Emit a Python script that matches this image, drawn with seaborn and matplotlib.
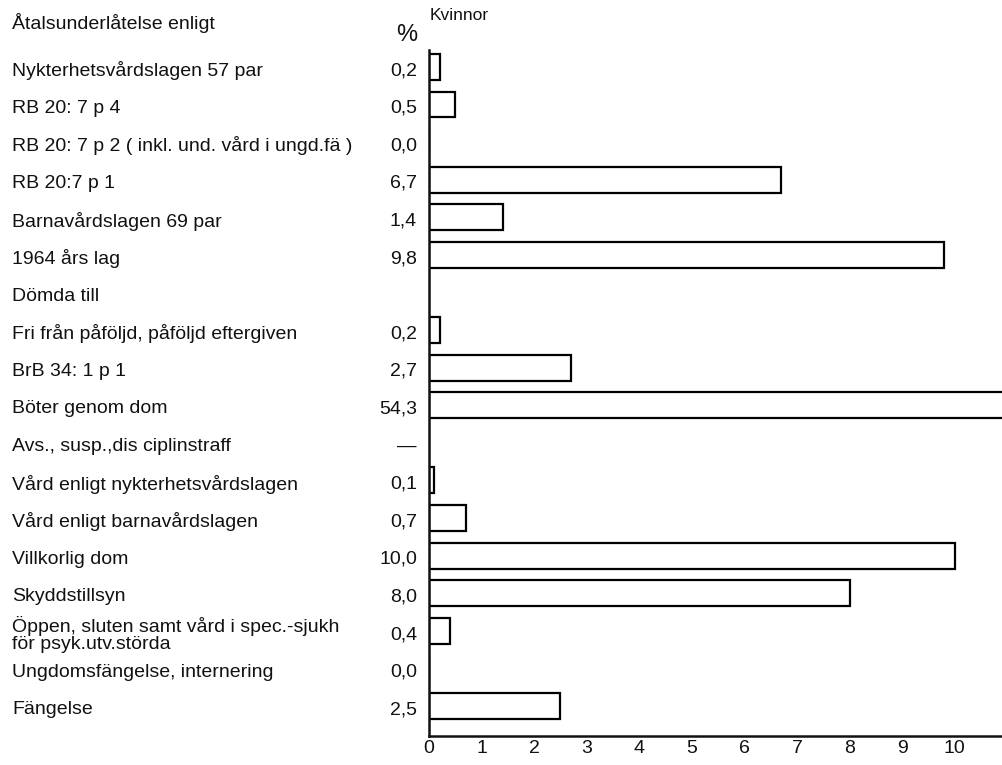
import numpy as np
import pandas as pd
import seaborn as sns
import matplotlib.pyplot as plt
from matplotlib import transforms

# Data (women, percent)
header_top = "Åtalsunderlåtelse enligt"
categories = [
    "Nykterhetsvårdslagen 57 par",
    "RB 20: 7 p 4",
    "RB 20: 7 p 2 ( inkl. und. vård i ungd.fä )",
    "RB 20:7 p 1",
    "Barnavårdslagen 69 par",
    "1964 års lag",
    "Dömda till",
    "Fri från påföljd, påföljd eftergiven",
    "BrB 34: 1 p 1",
    "Böter genom dom",
    "Avs., susp.,dis ciplinstraff",
    "Vård enligt nykterhetsvårdslagen",
    "Vård enligt barnavårdslagen",
    "Villkorlig dom",
    "Skyddstillsyn",
    "Öppen, sluten samt vård i spec.-sjukh\nför psyk.utv.störda",
    "Ungdomsfängelse, internering",
    "Fängelse",
]
percent = [0.2, 0.5, 0.0, 6.7, 1.4, 9.8, np.nan, 0.2, 2.7, 54.3,
           np.nan, 0.1, 0.7, 10.0, 8.0, 0.4, 0.0, 2.5]
section_rows = ["Dömda till"]
x_ticks = list(range(0, 11))

df = pd.DataFrame({"kategori": categories, "procent": percent})

sns.set_style("white")
plt.rcParams['font.family'] = ['Liberation Sans', 'DejaVu Sans']

fig = plt.figure(figsize=(10.03, 7.65), dpi=100)
ax = fig.add_axes([429 / 1003, 1 - 736 / 765, 1 - 429 / 1003, (736 - 50) / 765])

sns.barplot(data=df, x="procent", y="kategori", order=categories, orient="h",
            color="white", edgecolor="black", linewidth=1.6, width=0.69,
            saturation=1, ax=ax)

ax.set_xlim(0, 10.92)
ax.set_ylim(17.8, -0.45)
ax.set_xlabel("")
ax.set_ylabel("")
ax.set_yticks([])
ax.set_xticks(x_ticks)
ax.set_xticklabels([str(t) for t in x_ticks], fontsize=14)
ax.tick_params(axis="x", direction="in", length=8, width=1.6, pad=3,
               colors="#111111")
for side in ["top", "right"]:
    ax.spines[side].set_visible(False)
for side in ["left", "bottom"]:
    ax.spines[side].set_linewidth(1.8)
    ax.spines[side].set_color("#111111")

# left-hand labels and value column
trans = transforms.blended_transform_factory(fig.transFigure, ax.transData)
for i, (cat, val) in enumerate(zip(categories, percent)):
    ax.text(12 / 1003, i + 0.1, cat, transform=trans, ha="left", va="center",
            fontsize=14, color="#111111", linespacing=1.0)
    if cat in section_rows:
        continue
    txt = "—" if np.isnan(val) else f"{val:.1f}".replace(".", ",")
    ax.text(417 / 1003, i + 0.1, txt, transform=trans, ha="right", va="center",
            fontsize=14, color="#111111")

ax.text(12 / 1003, -1.17, header_top, transform=trans, ha="left",
        va="center", fontsize=14, color="#111111")
ax.text(407 / 1003, -0.85, "%", transform=trans, ha="center",
        va="center", fontsize=17, color="#111111")
ax.text(0.005, -1.38, "Kvinnor", ha="left", va="center", fontsize=12.5,
        color="#111111", clip_on=False)

fig.savefig("out.png", dpi=100)
